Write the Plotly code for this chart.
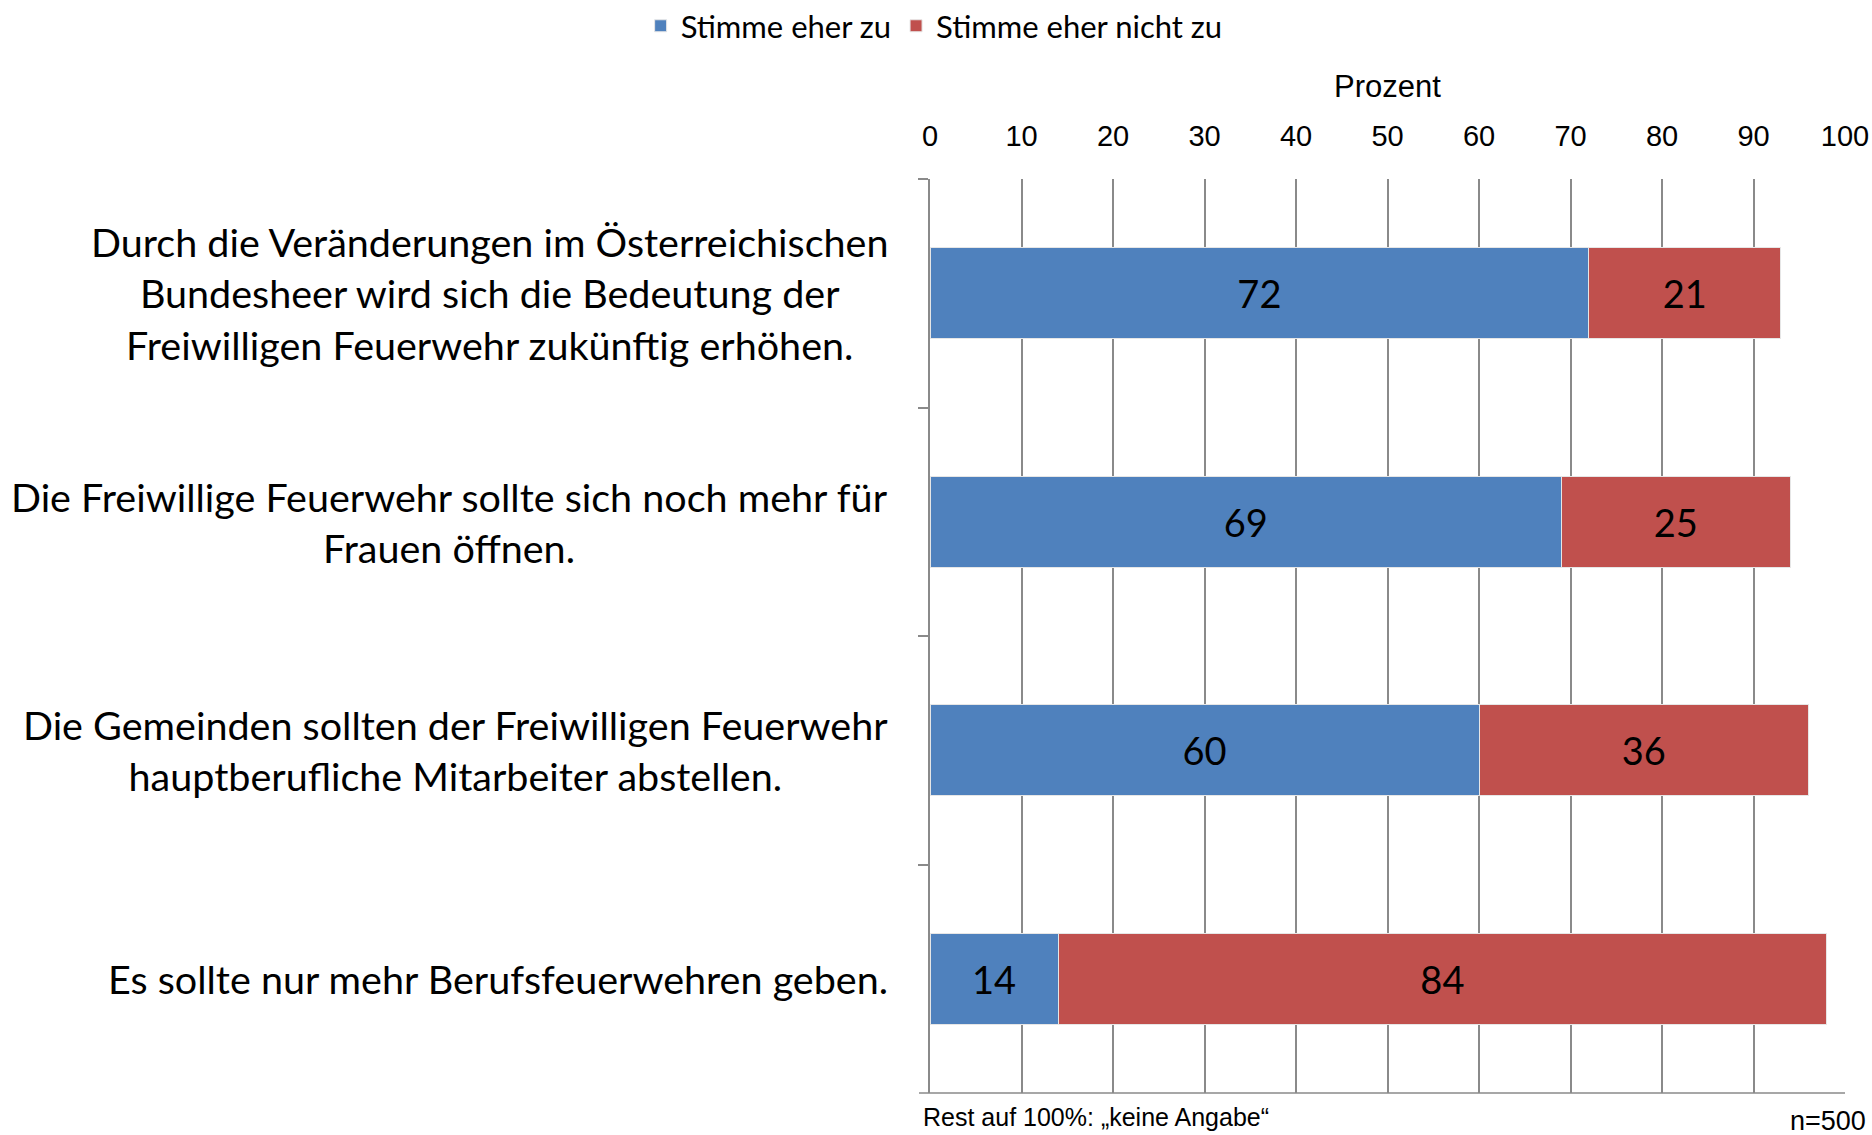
import plotly.graph_objects as go

# Survey statements (top to bottom) and percentages
statements = [
    "Durch die Veränderungen im Österreichischen<br>Bundesheer wird sich die Bedeutung der<br>Freiwilligen Feuerwehr zukünftig erhöhen.",
    "Die Freiwillige Feuerwehr sollte sich noch mehr für<br>Frauen öffnen.",
    "Die Gemeinden sollten der Freiwilligen Feuerwehr<br>hauptberufliche Mitarbeiter abstellen.",
    "Es sollte nur mehr Berufsfeuerwehren geben.",
]
agree = [72, 69, 60, 14]
disagree = [21, 25, 36, 84]
series_names = ["Stimme eher zu", "Stimme eher nicht zu"]
x_ticks = [0, 10, 20, 30, 40, 50, 60, 70, 80, 90, 100]

BLUE = "#4F81BD"
RED = "#C0504D"
GRID = "#8A8A8A"
LABEL_FONT = "Lato"
AXIS_FONT = "Liberation Sans, Arial"

fig = go.Figure()
for name, vals, col in [(series_names[0], agree, BLUE), (series_names[1], disagree, RED)]:
    fig.add_trace(go.Bar(
        y=statements,
        x=vals,
        name=name,
        orientation="h",
        marker=dict(color=col, line=dict(color="#e6e6e6", width=1)),
        text=[str(v) for v in vals],
        textposition="inside",
        insidetextanchor="middle",
        textfont=dict(family=LABEL_FONT, size=38, color="black"),
        constraintext="none",
    ))

# statement labels, centered multi-line text left of the axis
for s in statements:
    fig.add_annotation(
        x=0, xref="paper", y=s, yref="y",
        text=s, showarrow=False, xanchor="right", xshift=-40,
        align="center", font=dict(family=LABEL_FONT, size=39.5, color="black"),
    )

fig.add_annotation(
    x=0, xref="paper", y=0, yref="paper",
    text="Rest auf 100%: „keine Angabe“", showarrow=False,
    xanchor="left", yanchor="top", xshift=-9, yshift=-8,
    font=dict(family=AXIS_FONT, size=25, color="black"),
)
fig.add_annotation(
    x=1, xref="paper", y=0, yref="paper",
    text="n=500", showarrow=False, xanchor="right", yanchor="top",
    xshift=23, yshift=-11,
    font=dict(family=AXIS_FONT, size=27, color="black"),
)

# bottom axis line
fig.add_shape(type="line", xref="paper", yref="paper", x0=-0.012, x1=1, y0=0, y1=0,
              line=dict(color=GRID, width=1.5))

fig.update_layout(
    width=1872,
    height=1135,
    barmode="stack",
    bargap=0.6,
    plot_bgcolor="white",
    paper_bgcolor="white",
    margin=dict(l=930, r=27, t=179, b=42, autoexpand=False),
    showlegend=True,
    legend=dict(
        orientation="h",
        xref="container", yref="container",
        x=0.499, y=0.977, xanchor="center", yanchor="middle",
        font=dict(family=LABEL_FONT, size=31, color="black"),
        itemwidth=30,
        traceorder="normal",
    ),
    xaxis=dict(
        side="top",
        range=[0, 100],
        tickvals=x_ticks,
        ticks="",
        automargin=False,
        showgrid=True,
        gridcolor=GRID,
        gridwidth=1.5,
        zeroline=False,
        showline=False,
        ticklabelstandoff=26,
        ticklabeloverflow="allow",
        tickfont=dict(family=AXIS_FONT, size=29, color="black"),
        title=dict(text="Prozent", standoff=13,
                   font=dict(family=AXIS_FONT, size=31, color="black")),
    ),
    yaxis=dict(
        autorange="reversed",
        automargin=False,
        showticklabels=False,
        showgrid=False,
        showline=True,
        linecolor=GRID,
        linewidth=1.5,
        ticks="outside",
        tickson="boundaries",
        ticklen=10,
        tickcolor=GRID,
        tickwidth=1.5,
    ),
)

# drop the default page margin so the figure fills the window exactly
fig.write_html("out.html",
               config={"displayModeBar": False},
               post_script="document.body.style.margin='0';document.body.style.overflow='hidden';")
